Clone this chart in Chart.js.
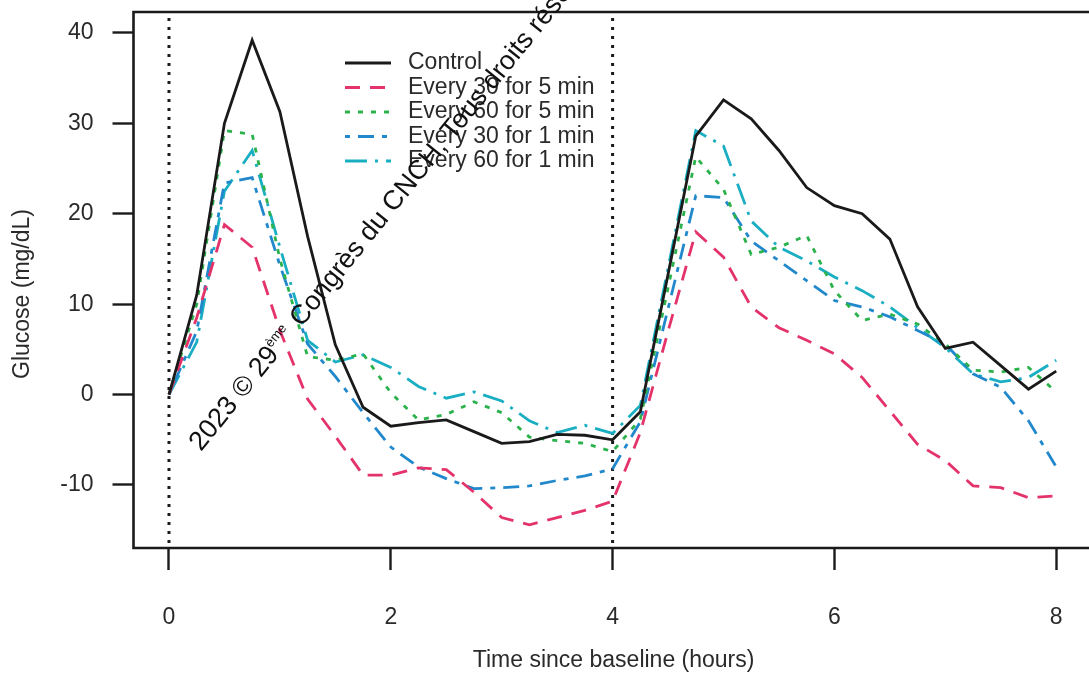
<!DOCTYPE html>
<html>
<head>
<meta charset="utf-8">
<script src="https://cdn.jsdelivr.net/npm/chart.js@4.4.0/dist/chart.umd.min.js"></script>
<style>
    html, body { margin: 0; padding: 0; background: #fff; overflow: hidden; }
    #wrap { width: 1095px; height: 674px; }
</style>
</head>
<body>
<div id="wrap"><canvas id="glucoseChart" width="1095" height="674"></canvas></div>
<script>
// Time since baseline (hours), one reading every 15 min
const hours = [0, 0.25, 0.5, 0.75, 1, 1.25, 1.5, 1.75, 2, 2.25, 2.5, 2.75, 3, 3.25, 3.5, 3.75,
               4, 4.25, 4.5, 4.75, 5, 5.25, 5.5, 5.75, 6, 6.25, 6.5, 6.75, 7, 7.25, 7.5, 7.75, 8];

// Change in glucose from baseline (mg/dL)
const control   = [0, 11, 30, 39.2, 31.3, 17.5, 5.5, -1.4, -3.5, -3.1, -2.8, -4.1, -5.4, -5.2, -4.4, -4.5,
                   -5.0, -1.9, 13.3, 28.6, 32.6, 30.5, 27.0, 22.9, 20.9, 20.0, 17.2, 9.7, 5.1, 5.8, 3.2, 0.6, 2.6];
const every30x5 = [0, 8.5, 18.8, 16.3, 7.1, -0.5, -4.6, -8.9, -8.9, -8.1, -8.3, -10.8, -13.6, -14.4, -13.6, -12.8,
                   -11.8, -4.2, 7.0, 18.0, 15.2, 9.7, 7.4, 6.0, 4.5, 1.9, -1.8, -5.5, -7.3, -10.1, -10.3, -11.4, -11.2];
const every60x5 = [0, 10, 29.2, 28.8, 15, 4.2, 3.8, 4.5, 0.2, -2.8, -2.2, -0.8, -2.0, -4.7, -5.1, -5.4,
                   -6.3, -2.7, 11.8, 26.3, 22.7, 15.5, 16.3, 17.6, 11.5, 8.2, 8.9, 7.8, 5.6, 2.7, 2.5, 3.0, 0.3];
const every30x1 = [0, 7, 23.4, 24, 14.3, 5.6, 2.0, -2.0, -5.8, -8.0, -9.3, -10.4, -10.3, -10.1, -9.5, -9.0,
                   -8.2, -3.0, 9.5, 22.0, 21.8, 17.0, 14.8, 12.6, 10.4, 9.7, 8.6, 7.1, 5.6, 2.3, 0.8, -2.9, -8.0];
const every60x1 = [0, 5.8, 22.5, 27, 16.3, 6, 3.6, 4.4, 3.0, 0.9, -0.4, 0.3, -0.7, -2.9, -4.2, -3.4,
                   -4.3, -1.2, 14.0, 29.2, 27.5, 19.2, 16.3, 14.8, 13.0, 11.5, 9.7, 7.4, 5.2, 2.3, 1.4, 1.9, 3.8];

const seriesNames = ['Control', 'Every 30 for 5 min', 'Every 60 for 5 min', 'Every 30 for 1 min', 'Every 60 for 1 min'];
const mealTimes = [0, 4];
const xTickValues = [0, 2, 4, 6, 8];
const yTickValues = [-10, 0, 10, 20, 30, 40];

const FONT = '"Liberation Sans", Arial, Helvetica, sans-serif';
const INK = '#1a1a1a';

const styles = [
    { color: '#1a1a1a', dash: [] },
    { color: '#e3336a', dash: [15, 10] },
    { color: '#2bb24c', dash: [5, 8] },
    { color: '#2288cc', dash: [5, 8, 16, 8] },
    { color: '#19aec2', dash: [22, 8, 3, 8] }
];

function toPoints(values) {
    return values.map((v, i) => ({ x: hours[i], y: v }));
}

const allSeries = [control, every30x5, every60x5, every30x1, every60x1];
const datasets = allSeries.map((vals, i) => ({
    label: seriesNames[i],
    data: toPoints(vals),
    borderColor: styles[i].color,
    borderDash: styles[i].dash,
    borderWidth: 2.8,
    pointRadius: 0,
    tension: 0,
    fill: false
}));

// dotted meal markers + plot frame (right side falls off the page)
const frameAndMarks = {
    id: 'frameAndMarks',
    beforeDatasetsDraw(chart) {
        const { ctx, chartArea: a, scales: { x } } = chart;
        ctx.save();
        ctx.strokeStyle = INK;
        ctx.lineWidth = 3;
        ctx.setLineDash([3, 6]);
        mealTimes.forEach(t => {
            const px = x.getPixelForValue(t);
            ctx.beginPath();
            ctx.moveTo(px, a.top + 6);
            ctx.lineTo(px, a.bottom);
            ctx.stroke();
        });
        ctx.restore();
    },
    afterDatasetsDraw(chart) {
        const { ctx, chartArea: a, width } = chart;
        ctx.save();
        ctx.strokeStyle = INK;
        ctx.lineWidth = 2.6;
        ctx.beginPath();
        ctx.moveTo(width, a.top);
        ctx.lineTo(a.left, a.top);
        ctx.lineTo(a.left, a.bottom);
        ctx.lineTo(width, a.bottom);
        ctx.stroke();
        ctx.restore();
    }
};

// legend drawn inside the plot, R style
const insideLegend = {
    id: 'insideLegend',
    afterDatasetsDraw(chart) {
        const { ctx } = chart;
        ctx.save();
        ctx.font = '23px ' + FONT;
        ctx.textBaseline = 'middle';
        ctx.textAlign = 'left';
        chart.data.datasets.forEach((ds, i) => {
            const y = 63 + i * 24.5;
            ctx.strokeStyle = ds.borderColor;
            ctx.lineWidth = 2.8;
            ctx.setLineDash(ds.borderDash);
            ctx.beginPath();
            ctx.moveTo(345, y);
            ctx.lineTo(391, y);
            ctx.stroke();
            ctx.fillStyle = '#2a2a2a';
            ctx.fillText(ds.label, 408, y);
        });
        ctx.restore();
    }
};

// axis titles and the rotated notice across the plot
const axisTitles = {
    id: 'axisTitles',
    afterDraw(chart) {
        const { ctx, chartArea: a } = chart;
        ctx.save();
        ctx.font = '23px ' + FONT;
        ctx.fillStyle = '#2a2a2a';
        ctx.textAlign = 'center';
        ctx.textBaseline = 'middle';
        ctx.fillText('Time since baseline (hours)', (a.left + a.right) / 2 + 1, 661);
        ctx.translate(23, 294);
        ctx.rotate(-Math.PI / 2);
        ctx.fillText('Glucose (mg/dL)', 0, 0);
        ctx.restore();

        ctx.save();
        ctx.translate(201, 452);
        ctx.rotate(-51 * Math.PI / 180);
        ctx.fillStyle = '#111';
        ctx.textBaseline = 'alphabetic';
        ctx.textAlign = 'left';
        let cx = 0;
        ctx.font = '27px ' + FONT;
        ctx.fillText('2023 © 29', cx, 0);
        cx += ctx.measureText('2023 © 29').width;
        ctx.font = '13px ' + FONT;
        ctx.fillText('ème', cx, -11);
        cx += ctx.measureText('ème').width + 2;
        ctx.font = '27px ' + FONT;
        ctx.fillText(' Congrès du CNCH, Tous droits réservés', cx, 0);
        ctx.restore();
    }
};

function noEdgePadding(scale) {
    scale.paddingTop = 0;
    scale.paddingBottom = 0;
    scale.paddingLeft = 0;
    scale.paddingRight = 0;
}

new Chart(document.getElementById('glucoseChart'), {
    type: 'line',
    data: { datasets: datasets },
    options: {
        responsive: false,
        animation: false,
        events: [],
        layout: { padding: { top: 12, right: 3.3, bottom: 0, left: 0 } },
        plugins: {
            legend: { display: false },
            tooltip: { enabled: false }
        },
        scales: {
            x: {
                type: 'linear',
                min: -0.32,
                max: 8.32,
                afterBuildTicks: scale => { scale.ticks = xTickValues.map(v => ({ value: v })); },
                afterFit: scale => { scale.height = 126; noEdgePadding(scale); },
                grid: { drawOnChartArea: false, drawTicks: true, tickLength: 22, tickColor: INK, tickWidth: 2.4 },
                border: { display: false },
                ticks: { font: { size: 23, family: FONT }, color: '#2a2a2a', padding: 34, maxRotation: 0 }
            },
            y: {
                min: -16.97,
                max: 42.32,
                afterBuildTicks: scale => { scale.ticks = yTickValues.map(v => ({ value: v })); },
                afterFit: scale => { scale.width = 133.5; noEdgePadding(scale); },
                grid: { drawOnChartArea: false, drawTicks: true, tickLength: 21, tickColor: INK, tickWidth: 2.4 },
                border: { display: false },
                ticks: { font: { size: 23, family: FONT }, color: '#2a2a2a', padding: 19 }
            }
        }
    },
    plugins: [frameAndMarks, insideLegend, axisTitles]
});
</script>
</body>
</html>
